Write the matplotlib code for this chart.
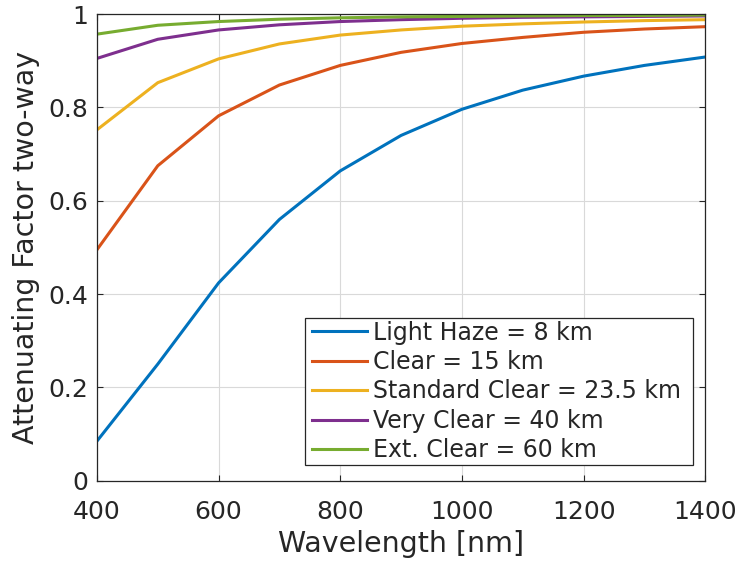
import matplotlib
matplotlib.use("Agg")
import matplotlib.pyplot as plt
from matplotlib.patches import Rectangle

# Wavelength grid (nm)
wavelength = [400, 500, 600, 700, 800, 900, 1000, 1100, 1200, 1300, 1400]

# Two-way attenuation factor for each visibility condition
light_haze = [0.085, 0.250, 0.424, 0.560, 0.664, 0.740, 0.796, 0.837, 0.867, 0.890, 0.908]
clear = [0.495, 0.675, 0.782, 0.848, 0.890, 0.918, 0.937, 0.950, 0.961, 0.968, 0.973]
standard_clear = [0.752, 0.853, 0.904, 0.936, 0.955, 0.966, 0.974, 0.979, 0.983, 0.986, 0.988]
very_clear = [0.905, 0.946, 0.966, 0.977, 0.984, 0.988, 0.991, 0.993, 0.994, 0.995, 0.996]
ext_clear = [0.957, 0.976, 0.984, 0.989, 0.992, 0.994, 0.995, 0.996, 0.997, 0.997, 0.998]

labels = ["Light Haze = 8 km", "Clear = 15 km", "Standard Clear = 23.5 km",
          "Very Clear = 40 km", "Ext. Clear = 60 km"]
series = [light_haze, clear, standard_clear, very_clear, ext_clear]
colors = [(0, 0.447, 0.741), (0.85, 0.325, 0.098), (0.929, 0.694, 0.125),
          (0.494, 0.184, 0.556), (0.466, 0.674, 0.188)]

xticks = [400, 600, 800, 1000, 1200, 1400]
yticks = [0, 0.2, 0.4, 0.6, 0.8, 1]
ytick_labels = ["0", "0.2", "0.4", "0.6", "0.8", "1"]

plt.rcParams["font.family"] = ["DejaVu Sans"]
dark = (0.15, 0.15, 0.15)

fig = plt.figure(figsize=(7.4, 5.63), dpi=100)
ax = fig.add_axes([0.131, 0.146, 0.822, 0.829])

for ys, lab, c in zip(series, labels, colors):
    ax.plot(wavelength, ys, color=c, linewidth=2.2, label=lab)

ax.set_xlim(400, 1400)
ax.set_ylim(0, 1)
ax.set_xticks(xticks)
ax.set_yticks(yticks)
ax.set_yticklabels(ytick_labels)
ax.grid(True, color=(0.85, 0.85, 0.85), linewidth=0.8)
ax.set_axisbelow(True)

ax.tick_params(axis="both", direction="in", length=4, width=0.8, colors=dark,
               labelsize=18, top=True, right=True)
ax.tick_params(axis="x", pad=14)
ax.tick_params(axis="y", pad=6)
for sp in ax.spines.values():
    sp.set_color(dark)
    sp.set_linewidth(0.9)

ax.set_xlabel("Wavelength [nm]", fontsize=20.5, color=dark, labelpad=4)
ax.set_ylabel("Attenuating Factor two-way", fontsize=20.5, color=dark, labelpad=6)

# Legend box drawn separately so it keeps a wider right margin
box = Rectangle((0.342, 0.034), 0.638, 0.315, transform=ax.transAxes,
                facecolor="white", edgecolor=dark, linewidth=0.9, zorder=4)
ax.add_patch(box)
leg = ax.legend(loc="center left", bbox_to_anchor=(0.3535, 0.1915), fontsize=17,
                frameon=False, handlelength=2.35, handletextpad=0.22,
                borderpad=0, labelspacing=0.23, borderaxespad=0)
leg.set_zorder(5)
for t in leg.get_texts():
    t.set_color(dark)

fig.savefig("out.png", dpi=100)
